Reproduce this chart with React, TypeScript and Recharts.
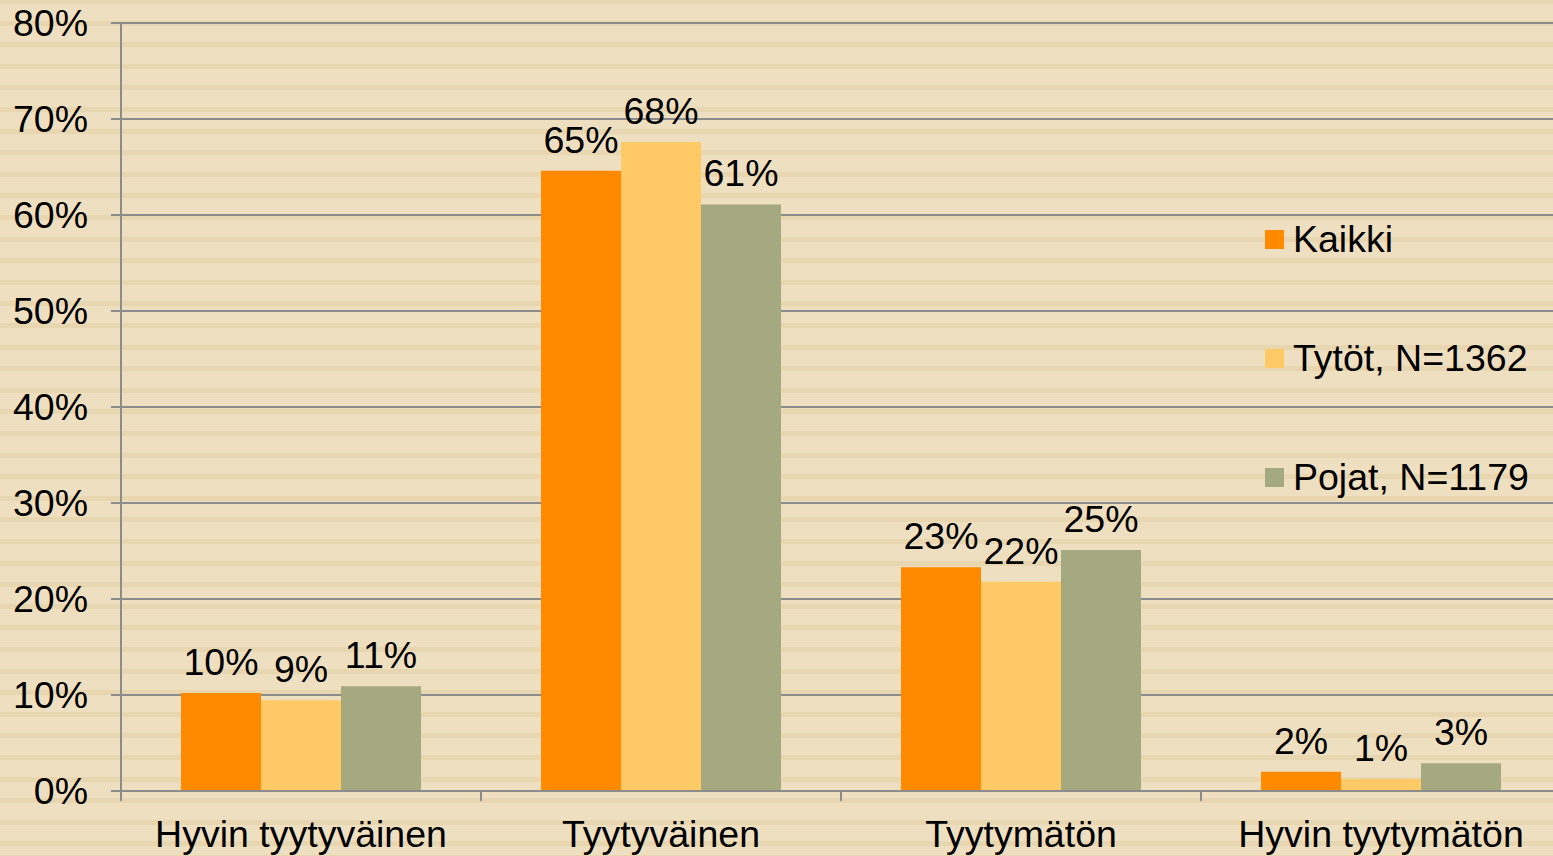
import { BarChart, Bar, XAxis, YAxis, CartesianGrid, Legend, LabelList } from "recharts";

const categories = ["Hyvin tyytyväinen", "Tyytyväinen", "Tyytymätön", "Hyvin tyytymätön"];
const kaikki = [10.2, 64.6, 23.3, 2.0];
const tytot = [9.45, 67.6, 21.8, 1.25];
const pojat = [10.9, 61.1, 25.1, 2.9];
const yTicks = [0, 10, 20, 30, 40, 50, 60, 70, 80];

const series = [
  { key: "kaikki", name: "Kaikki", color: "#FF8A00" },
  { key: "tytot", name: "Tytöt, N=1362", color: "#FFCA66" },
  { key: "pojat", name: "Pojat, N=1179", color: "#A4A97F" },
];

const data = categories.map((c, i) => ({
  name: c,
  kaikki: kaikki[i],
  tytot: tytot[i],
  pojat: pojat[i],
}));

const GRID = "#8C8C8C";
const FONT = 37.5;

// category label plus a tick mark on the left edge of each band
function CategoryTick(props: any) {
  const { x, y, payload } = props;
  const half = payload.offset || 0;
  return (
    <g>
      <line x1={x - half} x2={x - half} y1={y} y2={y + 10} stroke={GRID} strokeWidth={2} />
      <line x1={x + half} x2={x + half} y1={y} y2={y + 10} stroke={GRID} strokeWidth={2} />
      <text x={x} y={y + 29} dy="0.71em" textAnchor="middle" fontSize={FONT} fill="#000">
        {payload.value}
      </text>
    </g>
  );
}

function LegendBox() {
  return (
    <div>
      {series.map((s) => (
        <div key={s.key} style={{ display: "flex", alignItems: "center", height: 119 }}>
          <span style={{ width: 19, height: 19, background: s.color, marginRight: 9, display: "inline-block" }} />
          <span style={{ fontSize: FONT, color: "#000" }}>{s.name}</span>
        </div>
      ))}
    </div>
  );
}

export default function App() {
  return (
    <div
      style={{
        position: "absolute",
        left: 0,
        top: 0,
        width: 1553,
        height: 856,
        overflow: "hidden",
        fontFamily: "'Liberation Sans', Arial, sans-serif",
        background:
          "repeating-linear-gradient(180deg, #E8D6B1 0px, #E8D6B1 5px, #EFDFC1 5px, #EFDFC1 21.6px)",
        backgroundPosition: "0 -1px",
      }}
    >
      <BarChart
        width={1561}
        height={856}
        data={data}
        margin={{ top: 23, right: 0, bottom: 0, left: 0 }}
        barCategoryGap={60}
        barGap={0}
      >
        <CartesianGrid vertical={false} stroke={GRID} strokeWidth={2} />
        <XAxis
          dataKey="name"
          height={65}
          tickSize={0}
          tickMargin={0}
          interval={0}
          axisLine={{ stroke: GRID, strokeWidth: 2 }}
          tickLine={false}
          tick={<CategoryTick />}
        />
        <YAxis
          width={121}
          domain={[0, 80]}
          ticks={yTicks}
          tickSize={10}
          tickMargin={23}
          tickFormatter={(v) => v + "%"}
          axisLine={{ stroke: GRID, strokeWidth: 2 }}
          tickLine={{ stroke: GRID, strokeWidth: 2 }}
          tick={{ fontSize: FONT, fill: "#000" }}
        />
        <Legend
          layout="vertical"
          align="center"
          verticalAlign="middle"
          content={() => <LegendBox />}
          wrapperStyle={{ left: 1265, top: 180, width: 300 }}
        />
        {series.map((s) => (
          <Bar key={s.key} dataKey={s.key} name={s.name} fill={s.color} isAnimationActive={false}>
            <LabelList
              dataKey={s.key}
              position="top"
              offset={18}
              formatter={(v: any) => Math.round(Number(v)) + "%"}
              style={{ fontSize: FONT, fill: "#000" }}
            />
          </Bar>
        ))}
      </BarChart>
    </div>
  );
}
